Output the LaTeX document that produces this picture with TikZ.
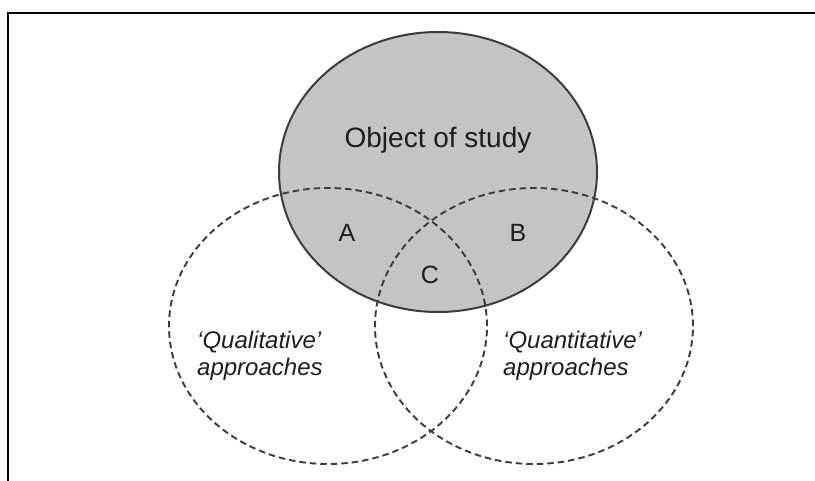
\documentclass[tikz,border=0pt]{standalone}
\usepackage{fontspec}
\setmainfont{Liberation Sans}
\usetikzlibrary{shapes.geometric}
\definecolor{fillgrey}{RGB}{196,196,196}
\definecolor{linegrey}{RGB}{60,60,60}
\definecolor{textgrey}{RGB}{30,30,30}
\begin{document}
\begin{tikzpicture}[x=1pt,y=-1pt,
  objshape/.style={ellipse,draw=linegrey,line width=2pt,fill=fillgrey,inner sep=0pt,minimum width=318pt,minimum height=280pt},
  approachshape/.style={ellipse,draw=linegrey,line width=1.9pt,dash pattern=on 6.5pt off 4pt,inner sep=0pt,minimum width=318pt,minimum height=276pt},
  bigtext/.style={text=textgrey,font=\fontsize{28}{32}\selectfont,inner sep=0pt},
  lettertext/.style={text=textgrey,font=\fontsize{25}{28}\selectfont,inner sep=0pt},
  sidetext/.style={text=textgrey,font=\fontsize{24}{27}\selectfont\itshape,inner sep=0pt,align=left}]
\useasboundingbox (0,0) rectangle (815,480);
\fill[white] (0,0) rectangle (815,480);
\draw[line width=2.2pt,line cap=rect] (8,480) -- (8,13) -- (815,13);
\node[objshape] (obj) at (438,172) {};
\node[approachshape] (qual) at (328,326) {};
\node[approachshape] (quant) at (534,326) {};
\node[bigtext] (objlabel) at (438,140) {Object of study};
\node[lettertext] (a) at (347,233) {A};
\node[lettertext] (b) at (518,233) {B};
\node[lettertext] (c) at (430,275) {C};
\node[sidetext,anchor=west] (quallabel) at (197,356) {‘Qualitative’\\approaches};
\node[sidetext,anchor=west] (quantlabel) at (503,356) {‘Quantitative’\\approaches};
\end{tikzpicture}
\end{document}
